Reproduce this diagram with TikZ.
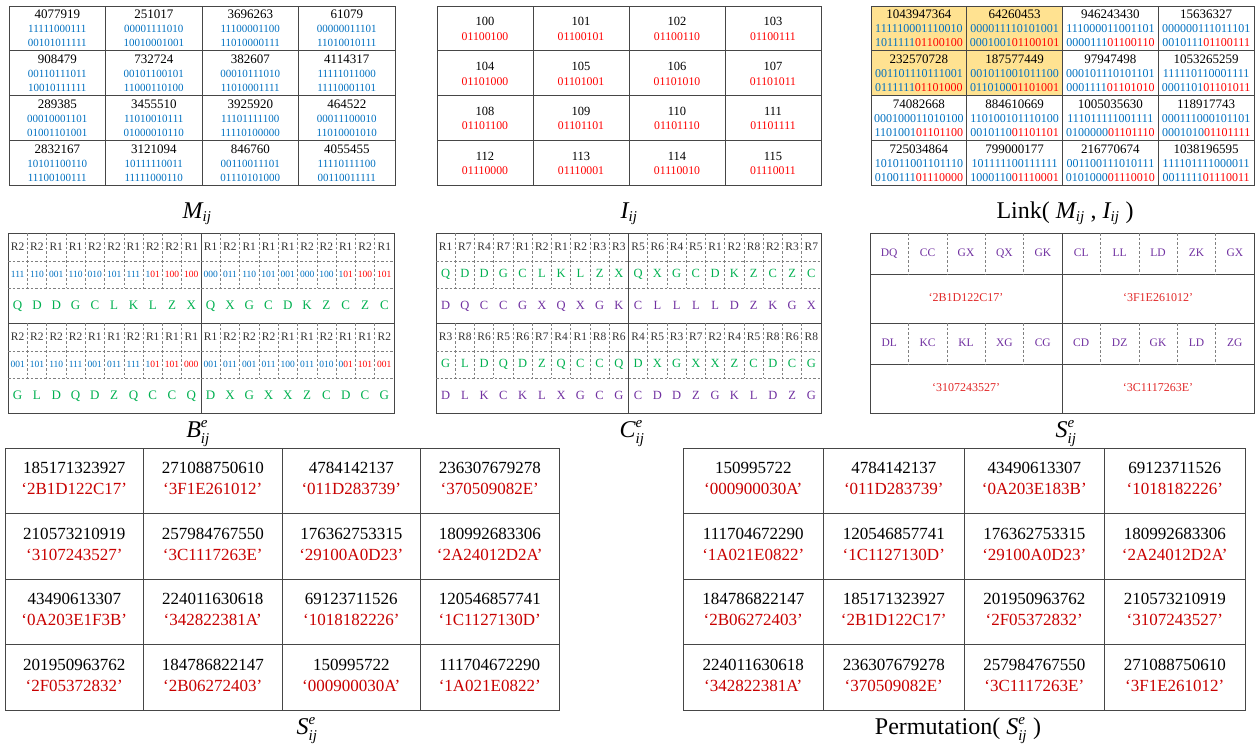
\documentclass[tikz,border=0pt]{standalone}
\usepackage{fontspec}
\setmainfont{Liberation Serif}
\definecolor{binblue}{RGB}{0,112,192}
\definecolor{bitred}{RGB}{255,0,0}
\definecolor{hexred}{RGB}{200,0,0}
\definecolor{qred}{RGB}{225,40,40}
\definecolor{symgreen}{RGB}{0,176,80}
\definecolor{sympurple}{RGB}{112,48,160}
\definecolor{hilite}{RGB}{255,226,145}
\definecolor{gridline}{RGB}{70,70,70}
\newcommand\fs[1]{\fontsize{#1}{#1}\selectfont}
\newcommand\splitfirst[3]{\textcolor{binblue}{#1}\textcolor{bitred}{#2#3}}
\newcommand\symsub[2]{$\hbox{\itshape #1}_{\hbox{\fs{15}\itshape #2}}$}
\newcommand\symsubsup[3]{$\hbox{\itshape #1}_{\hbox{\fs{15}\itshape #2}}^{\hbox{\fs{15}\itshape #3}}$}
\tikzset{
  gridl/.style={draw=gridline, line width=0.8pt},
  dgrid/.style={draw=gray, line width=0.6pt, dash pattern=on 2.5pt off 2pt},
  txt/.style={inner sep=0pt, anchor=center, text height=0.68em, text depth=0pt},
  lbl/.style={inner sep=0pt, anchor=base, font=\fs{24}},
}
\begin{document}
\begin{tikzpicture}[x=1pt,y=-1pt]
\useasboundingbox (0,0) rectangle (1257,747);

% ---------- M_ij ----------
\draw[gridl] (9,6) rectangle (395,185);
\foreach \i in {1,2,3}{
  \draw[gridl] (9+96.5*\i,6) -- (9+96.5*\i,185);
  \draw[gridl] (9,6+44.75*\i) -- (395,6+44.75*\i);
}
\foreach \n/\a/\b [count=\k from 0] in {
  4077919/11111000111/00101011111, 251017/00001111010/10010001001, 3696263/11100001100/11010000111, 61079/00000011101/11010010111,
  908479/00110111011/10010111111, 732724/00101100101/11000110100, 382607/00010111010/11010001111, 4114317/11111011000/11110001101,
  289385/00010001101/01001101001, 3455510/11010010111/01000010110, 3925920/11101111100/11110100000, 464522/00011100010/11010001010,
  2832167/10101100110/11100100111, 3121094/10111110011/11111000110, 846760/00110011101/01110101000, 4055455/11110111100/00110011111}{
  \pgfmathtruncatemacro\row{\k/4}
  \pgfmathtruncatemacro\col{mod(\k,4)}
  \pgfmathsetmacro\xc{9+96.5*(\col+0.5)}
  \pgfmathsetmacro\yt{6+44.75*\row}
  \node[txt,font=\fs{13}] (m\k n) at (\xc,\yt+9.5) {\n};
  \node[txt,font=\fs{11},text=binblue] (m\k a) at (\xc,\yt+23.5) {\a};
  \node[txt,font=\fs{11},text=binblue] (m\k b) at (\xc,\yt+37.5) {\b};
}
\node[lbl] (labM) at (197,218) {\symsub{M}{ij}};

% ---------- I_ij ----------
\draw[gridl] (437,6) rectangle (821,185);
\foreach \i in {1,2,3}{
  \draw[gridl] (437+96*\i,6) -- (437+96*\i,185);
  \draw[gridl] (437,6+44.75*\i) -- (821,6+44.75*\i);
}
\foreach \n/\b [count=\k from 0] in {
  100/01100100,101/01100101,102/01100110,103/01100111,
  104/01101000,105/01101001,106/01101010,107/01101011,
  108/01101100,109/01101101,110/01101110,111/01101111,
  112/01110000,113/01110001,114/01110010,115/01110011}{
  \pgfmathtruncatemacro\row{\k/4}
  \pgfmathtruncatemacro\col{mod(\k,4)}
  \pgfmathsetmacro\xc{437+96*(\col+0.5)}
  \pgfmathsetmacro\yt{6+44.75*\row}
  \node[txt,font=\fs{12.5}] (i\k n) at (\xc,\yt+16.5) {\n};
  \node[txt,font=\fs{11.75},text=bitred] (i\k b) at (\xc,\yt+31) {\b};
}
\node[lbl] (labI) at (629,218) {\symsub{I}{ij}};

% ---------- Link(M_ij, I_ij) ----------
\fill[hilite] (871,6) rectangle (1062.5,95.5);
\draw[gridl] (871,6) rectangle (1254,185);
\foreach \i in {1,2,3}{
  \draw[gridl] (871+95.75*\i,6) -- (871+95.75*\i,185);
  \draw[gridl] (871,6+44.75*\i) -- (1254,6+44.75*\i);
}
\foreach \n/\a/\b/\c [count=\k from 0] in {
  1043947364/111110001110010/1011111/01100100, 64260453/000011110101001/0001001/01100101, 946243430/111000011001101/0000111/01100110, 15636327/000000111011101/0010111/01100111,
  232570728/001101110111001/0111111/01101000, 187577449/001011001011100/0110100/01101001, 97947498/000101110101101/0001111/01101010, 1053265259/111110110001111/0001101/01101011,
  74082668/000100011010100/1101001/01101100, 884610669/110100101110100/0010110/01101101, 1005035630/111011111001111/0100000/01101110, 118917743/000111000101101/0001010/01101111,
  725034864/101011001101110/0100111/01110000, 799000177/101111100111111/1000110/01110001, 216770674/001100111010111/0101000/01110010, 1038196595/111101111000011/0011111/01110011}{
  \pgfmathtruncatemacro\row{\k/4}
  \pgfmathtruncatemacro\col{mod(\k,4)}
  \pgfmathsetmacro\xc{871+95.75*(\col+0.5)}
  \pgfmathsetmacro\yt{6+44.75*\row}
  \node[txt,font=\fs{13}] (l\k n) at (\xc,\yt+9.5) {\n};
  \node[txt,font=\fs{12},text=binblue] (l\k a) at (\xc,\yt+23.5) {\a};
  \node[txt,font=\fs{12}] (l\k b) at (\xc,\yt+37.5) {\textcolor{binblue}{\b}\textcolor{bitred}{\c}};
}
\node[lbl] (labL) at (1065,218) {Link( \symsub{M}{ij} , \symsub{I}{ij} )};

% ---------- B^e_ij ----------
\draw[gridl] (8,233) rectangle (394,413);
\draw[gridl] (201,233) -- (201,413);
\draw[gridl] (8,323) -- (394,323);
\foreach \hx/\ty/\Rs/\Gs/\Ls [count=\q] in {
  8/233/{R2,R2,R1,R1,R2,R2,R1,R2,R2,R1}/{111,110,001,110,010,101,111,101,100,100}/{Q,D,D,G,C,L,K,L,Z,X},
  201/233/{R1,R2,R1,R1,R1,R2,R2,R1,R2,R1}/{000,011,110,101,001,000,100,101,100,101}/{Q,X,G,C,D,K,Z,C,Z,C},
  8/323/{R2,R2,R2,R2,R1,R1,R2,R1,R1,R1}/{001,101,110,111,001,011,111,101,101,000}/{G,L,D,Q,D,Z,Q,C,C,Q},
  201/323/{R1,R2,R2,R2,R1,R1,R2,R1,R1,R2}/{001,011,001,011,100,011,010,001,101,001}/{D,X,G,X,X,Z,C,D,C,G}}{
  \draw[dgrid] (\hx,\ty+28) -- (\hx+193,\ty+28);
  \draw[dgrid] (\hx,\ty+55) -- (\hx+193,\ty+55);
  \foreach \i in {1,...,9}{\draw[dgrid] (\hx+19.3*\i,\ty) -- (\hx+19.3*\i,\ty+55);}
  \foreach \v [count=\i] in \Rs{
    \node[txt,font=\fs{11.5},text=black!80] (b\q r\i) at (\hx+19.3*\i-9.65,\ty+14) {\v};}
  \foreach \v [count=\i] in \Gs{
    \node[txt,font=\fs{9.5}] (b\q g\i) at (\hx+19.3*\i-9.65,\ty+41.5)
      {\ifnum\i<8 \textcolor{binblue}{\v}\else\ifnum\i=8 \expandafter\splitfirst\v\else\textcolor{bitred}{\v}\fi\fi};}
  \foreach \v [count=\i] in \Ls{
    \node[txt,font=\fs{13},text=symgreen] (b\q l\i) at (\hx+19.3*\i-9.65,\ty+73) {\v};}
}
\node[lbl] (labB) at (198,437) {\symsubsup{B}{ij}{e}};

% ---------- C^e_ij ----------
\draw[gridl] (436,233) rectangle (821,413);
\draw[gridl] (628.5,233) -- (628.5,413);
\draw[gridl] (436,323) -- (821,323);
\foreach \hx/\ty/\Rs/\Gs/\Ls [count=\q] in {
  436/233/{R1,R7,R4,R7,R1,R2,R1,R2,R3,R3}/{Q,D,D,G,C,L,K,L,Z,X}/{D,Q,C,C,G,X,Q,X,G,K},
  628.5/233/{R5,R6,R4,R5,R1,R2,R8,R2,R3,R7}/{Q,X,G,C,D,K,Z,C,Z,C}/{C,L,L,L,L,D,Z,K,G,X},
  436/323/{R3,R8,R6,R5,R6,R7,R4,R1,R8,R6}/{G,L,D,Q,D,Z,Q,C,C,Q}/{D,L,K,C,K,L,X,G,C,G},
  628.5/323/{R4,R5,R3,R7,R2,R4,R5,R8,R6,R8}/{D,X,G,X,X,Z,C,D,C,G}/{C,D,D,Z,G,K,L,D,Z,G}}{
  \draw[dgrid] (\hx,\ty+28) -- (\hx+192.5,\ty+28);
  \draw[dgrid] (\hx,\ty+55) -- (\hx+192.5,\ty+55);
  \foreach \i in {1,...,9}{\draw[dgrid] (\hx+19.25*\i,\ty) -- (\hx+19.25*\i,\ty+55);}
  \foreach \v [count=\i] in \Rs{
    \node[txt,font=\fs{11.5},text=black!80] (c\q r\i) at (\hx+19.25*\i-9.625,\ty+14) {\v};}
  \foreach \v [count=\i] in \Gs{
    \node[txt,font=\fs{12.5},text=symgreen] (c\q g\i) at (\hx+19.25*\i-9.625,\ty+41.5) {\v};}
  \foreach \v [count=\i] in \Ls{
    \node[txt,font=\fs{12.5},text=sympurple] (c\q l\i) at (\hx+19.25*\i-9.625,\ty+73) {\v};}
}
\node[lbl] (labC) at (632,437) {\symsubsup{C}{ij}{e}};

% ---------- S^e_ij (pairs and hex words) ----------
\draw[gridl] (870,233) rectangle (1254,413);
\draw[gridl] (1062,233) -- (1062,413);
\foreach \yy in {274,323,364}{\draw[gridl] (870,\yy) -- (1254,\yy);}
\foreach \i in {1,2,3,4,6,7,8,9}{
  \draw[dgrid] (870+38.4*\i,233) -- (870+38.4*\i,274);
  \draw[dgrid] (870+38.4*\i,323) -- (870+38.4*\i,364);
}
\foreach \v [count=\i] in {DQ,CC,GX,QX,GK,CL,LL,LD,ZK,GX}{
  \node[txt,font=\fs{11.5},text=sympurple] (sa\i) at (870+38.4*\i-19.2,253.5) {\v};}
\foreach \v [count=\i] in {DL,KC,KL,XG,CG,CD,DZ,GK,LD,ZG}{
  \node[txt,font=\fs{11.5},text=sympurple] (sb\i) at (870+38.4*\i-19.2,343.5) {\v};}
\node[txt,font=\fs{12},text=qred] (sh1) at (966,298.5) {‘2B1D122C17’};
\node[txt,font=\fs{12},text=qred] (sh2) at (1158,298.5) {‘3F1E261012’};
\node[txt,font=\fs{12},text=qred] (sh3) at (966,388.5) {‘3107243527’};
\node[txt,font=\fs{12},text=qred] (sh4) at (1158,388.5) {‘3C1117263E’};
\node[lbl] (labS) at (1066,437) {\symsubsup{S}{ij}{e}};

% ---------- S^e_ij (decimal and hex) ----------
\draw[gridl] (5,448) rectangle (559,710);
\foreach \i in {1,2,3}{
  \draw[gridl] (5+138.5*\i,448) -- (5+138.5*\i,710);
  \draw[gridl] (5,448+65.5*\i) -- (559,448+65.5*\i);
}
\foreach \n/\h [count=\k from 0] in {
  185171323927/2B1D122C17, 271088750610/3F1E261012, 4784142137/011D283739, 236307679278/370509082E,
  210573210919/3107243527, 257984767550/3C1117263E, 176362753315/29100A0D23, 180992683306/2A24012D2A,
  43490613307/0A203E1F3B, 224011630618/342822381A, 69123711526/1018182226, 120546857741/1C1127130D,
  201950963762/2F05372832, 184786822147/2B06272403, 150995722/000900030A, 111704672290/1A021E0822}{
  \pgfmathtruncatemacro\row{\k/4}
  \pgfmathtruncatemacro\col{mod(\k,4)}
  \pgfmathsetmacro\xc{5+138.5*(\col+0.5)}
  \pgfmathsetmacro\yt{448+65.5*\row}
  \node[txt,font=\fs{17}] (p\k n) at (\xc,\yt+22.5) {\n};
  \node[txt,font=\fs{17},text=hexred] (p\k h) at (\xc,\yt+43.5) {‘\h’};
}
\node[lbl] (labSe) at (307,734) {\symsubsup{S}{ij}{e}};

% ---------- Permutation(S^e_ij) ----------
\draw[gridl] (683,448) rectangle (1245,710);
\foreach \i in {1,2,3}{
  \draw[gridl] (683+140.5*\i,448) -- (683+140.5*\i,710);
  \draw[gridl] (683,448+65.5*\i) -- (1245,448+65.5*\i);
}
\foreach \n/\h [count=\k from 0] in {
  150995722/000900030A, 4784142137/011D283739, 43490613307/0A203E183B, 69123711526/1018182226,
  111704672290/1A021E0822, 120546857741/1C1127130D, 176362753315/29100A0D23, 180992683306/2A24012D2A,
  184786822147/2B06272403, 185171323927/2B1D122C17, 201950963762/2F05372832, 210573210919/3107243527,
  224011630618/342822381A, 236307679278/370509082E, 257984767550/3C1117263E, 271088750610/3F1E261012}{
  \pgfmathtruncatemacro\row{\k/4}
  \pgfmathtruncatemacro\col{mod(\k,4)}
  \pgfmathsetmacro\xc{683+140.5*(\col+0.5)}
  \pgfmathsetmacro\yt{448+65.5*\row}
  \node[txt,font=\fs{17}] (q\k n) at (\xc,\yt+22.5) {\n};
  \node[txt,font=\fs{17},text=hexred] (q\k h) at (\xc,\yt+43.5) {‘\h’};
}
\node[lbl] (labP) at (958,734) {Permutation( \symsubsup{S}{ij}{e} )};
\end{tikzpicture}
\end{document}
